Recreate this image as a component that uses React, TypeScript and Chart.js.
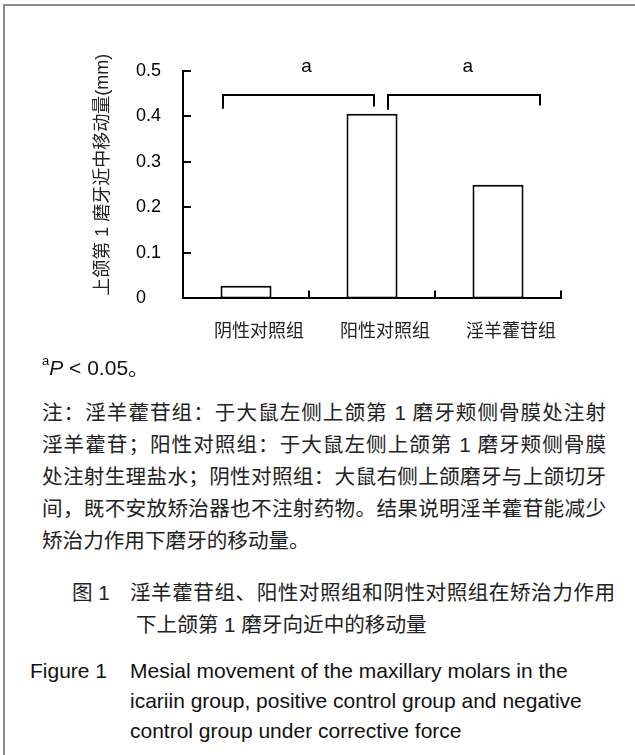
import React, { useEffect, useRef } from 'react';
import { Chart, registerables } from 'chart.js';

Chart.register(...registerables);

// ---- data ----
const categories = ['阴性对照组', '阳性对照组', '淫羊藿苷组'];
const movementMm = [0.028, 0.406, 0.25];
const yTickLabels = ['0', '0.1', '0.2', '0.3', '0.4', '0.5'];
const yAxisTitle = '上颌第 1 磨牙近中移动量(mm)';
const sigMarks = ['a', 'a'];
const sigPairs = [
  [0, 1],
  [1, 2],
];

const noteLines = [
  '注：淫羊藿苷组：于大鼠左侧上颌第 1 磨牙颊侧骨膜处注射',
  '淫羊藿苷；阳性对照组：于大鼠左侧上颌第 1 磨牙颊侧骨膜',
  '处注射生理盐水；阴性对照组：大鼠右侧上颌磨牙与上颌切牙',
  '间，既不安放矫治器也不注射药物。结果说明淫羊藿苷能减少',
  '矫治力作用下磨牙的移动量。',
];
const cnCaptionLabel = '图 1';
const cnCaptionLines = ['淫羊藿苷组、阳性对照组和阴性对照组在矫治力作用', '下上颌第 1 磨牙向近中的移动量'];
const enCaptionLabel = 'Figure 1';
const enCaptionLines = [
  'Mesial movement of the maxillary molars in the',
  'icariin group, positive control group and negative',
  'control group under corrective force',
];

const FONT = '"Liberation Sans", Arial, "Noto Sans CJK SC", sans-serif';

const annotationPlugin = {
  id: 'figureAnnotations',
  afterDraw(chart: any) {
    const { ctx } = chart;
    const xs = chart.scales.x;
    const ys = chart.scales.y;
    const cw = xs.width / categories.length;
    ctx.save();
    ctx.strokeStyle = '#000';
    ctx.lineWidth = 2;
    ctx.lineCap = 'butt';
    // y ticks (inside)
    ys.ticks.forEach((_t: any, i: number) => {
      if (i === 0) return;
      const py = Math.round(ys.getPixelForTick(i));
      ctx.beginPath();
      ctx.moveTo(xs.left, py);
      ctx.lineTo(xs.left + 8, py);
      ctx.stroke();
    });
    // x ticks at category boundaries (inside)
    for (let i = 0; i < categories.length; i++) {
      const px = Math.round(xs.getPixelForValue(i) + cw / 2);
      ctx.beginPath();
      ctx.moveTo(px, ys.bottom);
      ctx.lineTo(px, ys.bottom - 8);
      ctx.stroke();
    }
    // significance brackets
    const geom = [
      { l: -0.18, r: 0.018, top: 0.448, lb: 0.417, rb: 0.422, tx: 0.48 },
      { l: 0.13, r: 0.337, top: 0.448, lb: 0.415, rb: 0.424, tx: 0.76 },
    ];
    sigPairs.forEach((pair, k) => {
      const g = geom[k];
      const x1 = Math.round(xs.getPixelForValue(pair[0]) + g.l * cw);
      const x2 = Math.round(xs.getPixelForValue(pair[1]) + g.r * cw);
      const yt = Math.round(ys.getPixelForValue(g.top));
      ctx.beginPath();
      ctx.moveTo(x1, ys.getPixelForValue(g.lb));
      ctx.lineTo(x1, yt);
      ctx.lineTo(x2, yt);
      ctx.lineTo(x2, ys.getPixelForValue(g.rb));
      ctx.stroke();
      ctx.fillStyle = '#000';
      ctx.font = '19px ' + FONT;
      ctx.textAlign = 'center';
      ctx.textBaseline = 'alphabetic';
      const tx = xs.getPixelForValue(pair[0]) + g.tx * cw;
      ctx.fillText(sigMarks[k], tx, ys.getPixelForValue(0.497));
    });
    // y-axis title
    ctx.translate(ys.left - 33, (ys.top + ys.bottom) / 2 - 10);
    ctx.rotate(-Math.PI / 2);
    ctx.fillStyle = '#222';
    ctx.font = '18px ' + FONT;
    ctx.textAlign = 'center';
    ctx.textBaseline = 'middle';
    ctx.fillText(yAxisTitle, 0, 0);
    ctx.restore();
  },
};

export default function App() {
  const ref = useRef<HTMLCanvasElement>(null);
  useEffect(() => {
    if (!ref.current) return;
    const chart = new Chart(ref.current, {
      type: 'bar',
      data: {
        labels: categories,
        datasets: [
          {
            data: movementMm,
            backgroundColor: '#fff',
            borderColor: '#000',
            borderWidth: 2,
            borderSkipped: false,
            barPercentage: 0.405,
            categoryPercentage: 1,
          },
        ],
      },
      options: {
        animation: false,
        responsive: false,
        maintainAspectRatio: false,
        devicePixelRatio: 1,
        layout: { padding: { left: 136, right: 74, top: 71, bottom: 14 } },
        plugins: { legend: { display: false }, tooltip: { enabled: false } },
        scales: {
          x: {
            grid: { display: false, drawTicks: false },
            border: { display: true, color: '#000', width: 2 },
            ticks: {
              color: '#222',
              font: { family: FONT, size: 18 },
              padding: 23,
              labelOffset: 13,
              maxRotation: 0,
              autoSkip: false,
            },
          },
          y: {
            min: 0,
            max: 0.5,
            grid: { display: false, drawTicks: false },
            border: { display: true, color: '#000', width: 2 },
            ticks: {
              stepSize: 0.1,
              color: '#000',
              font: { family: FONT, size: 18 },
              padding: 11,
              crossAlign: 'far',
              callback: (_v: any, i: number) => yTickLabels[i],
            },
          },
        },
      },
      plugins: [annotationPlugin],
    } as any);
    return () => chart.destroy();
  }, []);

  const textBase: React.CSSProperties = {
    position: 'absolute',
    fontFamily: FONT,
    color: '#222',
    whiteSpace: 'nowrap',
  };

  return (
    <div style={{ position: 'absolute', left: 0, top: 0, width: 635, height: 755, background: '#fff', overflow: 'hidden' }}>
      <div
        style={{
          position: 'absolute',
          left: 3,
          top: 4,
          right: -4,
          bottom: -4,
          borderTop: '2px solid #8c8c8c',
          borderLeft: '2px solid #8c8c8c',
        }}
      />
      <canvas ref={ref} width={635} height={380} style={{ position: 'absolute', left: 0, top: 0, width: 635, height: 380 }} />
      <div style={{ ...textBase, left: 42, top: 356, fontSize: 21, lineHeight: '24px', color: '#111' }}>
        <span style={{ fontSize: 13, position: 'relative', top: -10 }}>a</span>
        <i>P</i> &lt; 0.05。
      </div>
      <div style={{ ...textBase, left: 42, top: 397, width: 564, fontSize: 20.6, lineHeight: '32px' }}>
        {noteLines.map((l, i) => (
          <div
            key={i}
            style={{
              textAlign: i < noteLines.length - 1 ? 'justify' : 'left',
              textAlignLast: i < noteLines.length - 1 ? 'justify' : 'left',
              whiteSpace: 'nowrap',
            } as any}
          >
            {l}
          </div>
        ))}
      </div>
      <div style={{ ...textBase, left: 72, top: 577, fontSize: 20.6, lineHeight: '32px' }}>{cnCaptionLabel}</div>
      <div style={{ ...textBase, left: 130, top: 577, width: 485, fontSize: 20.6, lineHeight: '32px' }}>
        <div style={{ textAlignLast: 'justify' } as any}>{cnCaptionLines[0]}</div>
        <div style={{ paddingLeft: 6 }}>{cnCaptionLines[1]}</div>
      </div>
      <div style={{ ...textBase, left: 30, top: 656, fontSize: 21, lineHeight: '30px', color: '#111' }}>{enCaptionLabel}</div>
      <div style={{ ...textBase, left: 130, top: 656, fontSize: 21, lineHeight: '30px', color: '#111' }}>
        {enCaptionLines.map((l, i) => (
          <div key={i}>{l}</div>
        ))}
      </div>
    </div>
  );
}
